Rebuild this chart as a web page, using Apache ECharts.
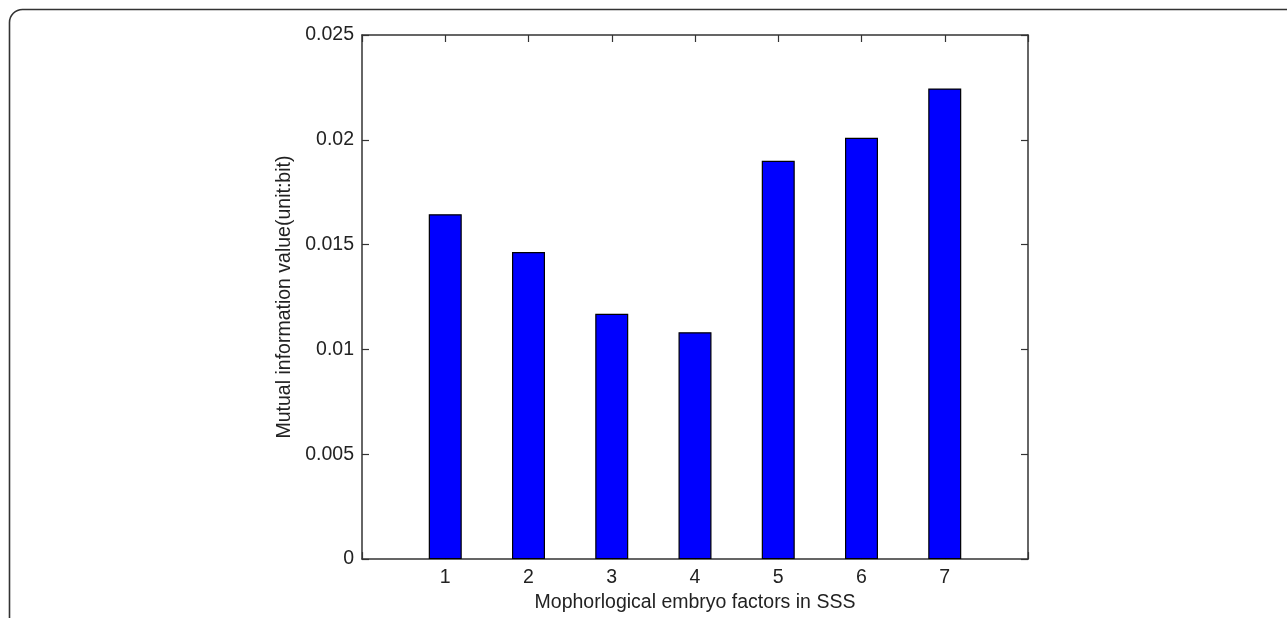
<!DOCTYPE html>
<html>
<head>
<meta charset="utf-8">
<script src="https://cdn.jsdelivr.net/npm/echarts@6/dist/echarts.min.js"></script>
<style>
html,body{margin:0;padding:0;background:#fff;}
#c{width:1287px;height:618px;}
</style>
</head>
<body>
<div id="c"></div>
<script>
const categories = [1, 2, 3, 4, 5, 6, 7];
const values = [0.01645, 0.01465, 0.01170, 0.01082, 0.01900, 0.02010, 0.02245];
const yTicks = [0, 0.005, 0.01, 0.015, 0.02, 0.025];
const xName = 'Mophorlogical embryo factors in SSS';
const yName = 'Mutual information value(unit:bit)';

const font = 'Liberation Sans, Arial, sans-serif';
const fs = 19.5;
const axisColor = '#333';
const textColor = '#222';

const chart = echarts.init(document.getElementById('c'), null, {renderer: 'canvas'});
const common = {
  axisLine: {show: true, onZero: false, lineStyle: {color: axisColor, width: 1.5}},
  axisTick: {show: true, inside: true, length: 7, lineStyle: {color: axisColor, width: 1.2}},
  splitLine: {show: false}
};
chart.setOption({
  animation: false,
  backgroundColor: '#fff',
  graphic: [{
    type: 'rect',
    shape: {x: 9.5, y: 9.5, width: 1400, height: 800, r: [13, 0, 0, 0]},
    style: {fill: 'none', stroke: '#333', lineWidth: 1.6},
    silent: true
  }],
  grid: {left: 362, top: 35, width: 666, height: 525, containLabel: false},
  xAxis: [
    Object.assign({
      type: 'value', position: 'bottom', min: 0, max: 8, interval: 1,
      name: xName, nameLocation: 'middle', nameGap: 29,
      nameTextStyle: {fontFamily: font, fontSize: fs, color: textColor},
      axisLabel: {
        fontFamily: font, fontSize: fs, color: textColor, margin: 9,
        formatter: v => categories.indexOf(v) >= 0 ? String(v) : ''
      }
    }, common),
    Object.assign({
      type: 'value', position: 'top', min: 0, max: 8, interval: 1,
      axisLabel: {show: false}
    }, common)
  ],
  yAxis: [
    Object.assign({
      type: 'value', position: 'left', min: 0, max: 0.025, interval: 0.005,
      name: yName, nameLocation: 'middle', nameGap: 67,
      nameTextStyle: {fontFamily: font, fontSize: fs, color: textColor},
      axisLabel: {
        fontFamily: font, fontSize: fs, color: textColor, margin: 8,
        formatter: v => {
          const t = yTicks.find(k => Math.abs(k - v) < 1e-9);
          return t === undefined ? '' : String(t);
        }
      }
    }, common),
    Object.assign({
      type: 'value', position: 'right', min: 0, max: 0.025, interval: 0.005,
      axisLabel: {show: false}
    }, common)
  ],
  series: [{
    type: 'bar',
    xAxisIndex: 0, yAxisIndex: 0,
    barWidth: 33,
    data: categories.map((c, i) => [c, values[i]]),
    itemStyle: {color: '#0000ff', borderColor: '#000', borderWidth: 1.2}
  }]
});
</script>
</body>
</html>
